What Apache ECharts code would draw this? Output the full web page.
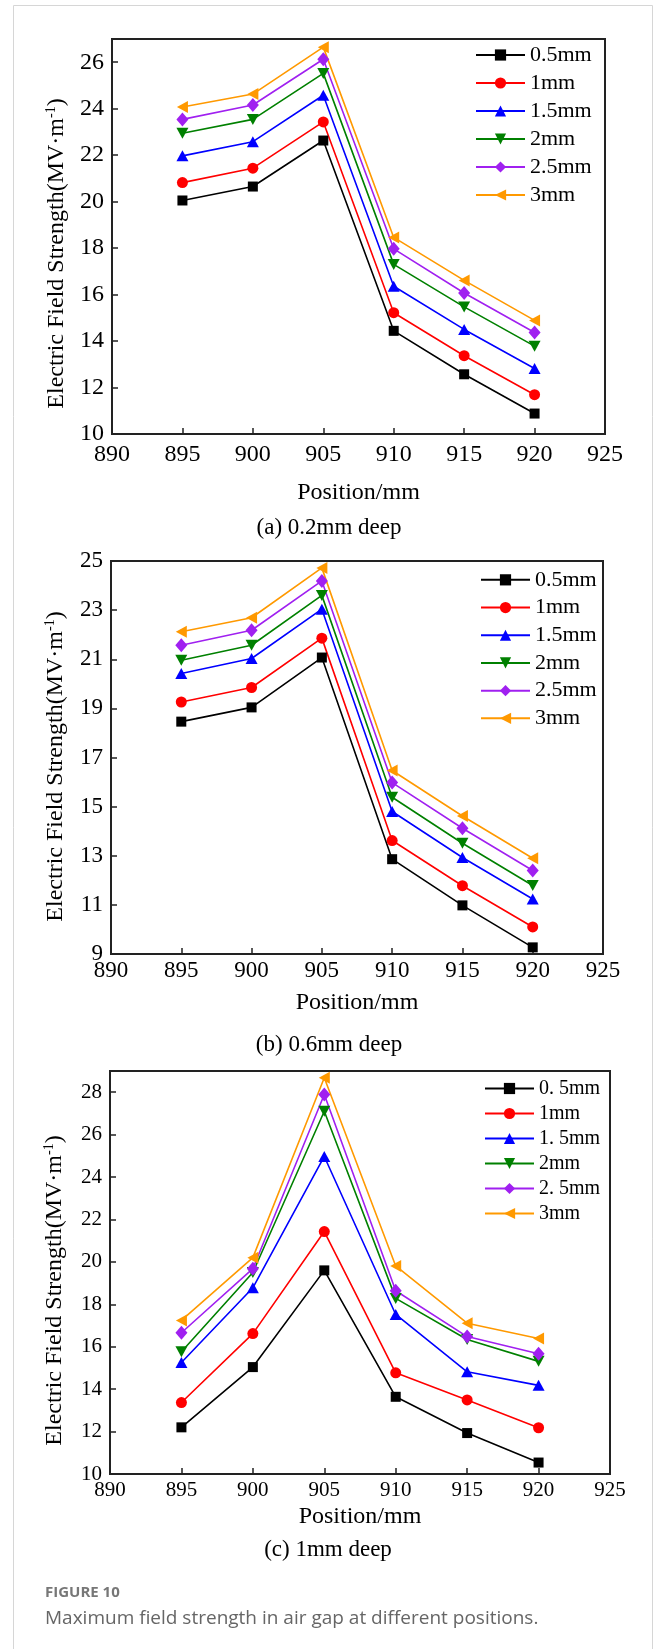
<!DOCTYPE html>
<html><head><meta charset="utf-8">
<script src="https://cdn.jsdelivr.net/npm/echarts@6/dist/echarts.min.js"></script>
<style>html,body{margin:0;padding:0;background:#fff}#c{width:658px;height:1649px}</style>
</head><body><div id="c"></div>
<script>
// ---------- data ----------
const positions = [895, 900, 905, 910, 915, 920];
const xTickLabels = [890, 895, 900, 905, 910, 915, 920, 925];
const namesAB = ['0.5mm', '1mm', '1.5mm', '2mm', '2.5mm', '3mm'];
const namesC = ['0. 5mm', '1mm', '1. 5mm', '2mm', '2. 5mm', '3mm'];

// (a) 0.2mm deep
const yTicksA = [10, 12, 14, 16, 18, 20, 22, 24, 26];
const yMaxA = 27;
const a05 = [20.05, 20.65, 22.63, 14.44, 12.57, 10.88];
const a1  = [20.82, 21.44, 23.43, 15.22, 13.37, 11.69];
const a15 = [21.97, 22.58, 24.58, 16.36, 14.50, 12.82];
const a2  = [22.94, 23.54, 25.52, 17.30, 15.47, 13.78];
const a25 = [23.54, 24.16, 26.13, 17.97, 16.07, 14.37];
const a3  = [24.07, 24.63, 26.65, 18.46, 16.61, 14.89];

// (b) 0.6mm deep
const yTicksB = [9, 11, 13, 15, 17, 19, 21, 23, 25];
const yMaxB = 25;
const b05 = [18.46, 19.04, 21.07, 12.86, 10.98, 9.27];
const b1  = [19.26, 19.85, 21.86, 13.62, 11.78, 10.10];
const b15 = [20.42, 21.03, 23.04, 14.80, 12.93, 11.24];
const b2  = [20.96, 21.57, 23.60, 15.38, 13.51, 11.79];
const b25 = [21.57, 22.18, 24.19, 15.98, 14.12, 12.40];
const b3  = [22.12, 22.69, 24.72, 16.47, 14.62, 12.90];

// (c) 1mm deep
const yTicksC = [10, 12, 14, 16, 18, 20, 22, 24, 26, 28];
const yMaxC = 29;
const c05 = [12.20, 15.04, 19.60, 13.64, 11.93, 10.54];
const c1  = [13.37, 16.62, 21.43, 14.77, 13.49, 12.18];
const c15 = [15.26, 18.78, 24.97, 17.52, 14.82, 14.18];
const c2  = [15.76, 19.50, 27.10, 18.28, 16.34, 15.31];
const c25 = [16.66, 19.68, 27.89, 18.64, 16.48, 15.67];
const c3  = [17.24, 20.20, 28.68, 19.81, 17.11, 16.39];

const captionA = '(a) 0.2mm deep';
const captionB = '(b) 0.6mm deep';
const captionC = '(c) 1mm deep';
const xName = 'Position/mm';
const yName = '{n|Electric Field Strength(MV·m}{s|-1}{n|)}';
const figLabel = 'FIGURE 10';
const figText = 'Maximum field strength in air gap at different positions.';

// ---------- styles ----------
const SERIF = '"Liberation Serif", "Times New Roman", serif';
const styles = [
  { color: '#000000', symbol: 'rect', size: 10 },
  { color: '#ff0000', symbol: 'circle', size: 11 },
  { color: '#0000ff', symbol: 'triangle', size: [12, 11] },
  { color: '#008000', symbol: 'path://M0,0L10,0L5,10Z', size: [12, 11] },
  { color: '#a020f0', symbol: 'diamond', size: [12, 14] },
  { color: '#ff9900', symbol: 'path://M10,0L10,10L0,5Z', size: [11, 12] }
];

const panels = [
  { names: namesAB, data: [a05, a1, a15, a2, a25, a3], ticks: yTicksA, max: yMaxA, showMax: false,
    grid: { left: 112, top: 39, width: 493, height: 395 },
    tickFont: 24, xMargin: 9, xGap: 47, yNamePad: [0, 34, 0, 0],
    legend: { left: 475, top: 41, lh: 28, fs: 22 } },
  { names: namesAB, data: [b05, b1, b15, b2, b25, b3], ticks: yTicksB, max: yMaxB, showMax: null,
    grid: { left: 111, top: 561, width: 492, height: 393 },
    tickFont: 23, xMargin: 5, xGap: 37, yNamePad: [0, 18, 0, 0],
    legend: { left: 480, top: 566, lh: 27.7, fs: 22 } },
  { names: namesC, data: [c05, c1, c15, c2, c25, c3], ticks: yTicksC, max: yMaxC, showMax: false,
    grid: { left: 110, top: 1071, width: 500, height: 403 },
    tickFont: 21, xMargin: 6, xGap: 31, yNamePad: [0, 36, 0, 0],
    legend: { left: 484, top: 1076, lh: 25, fs: 20 } }
];

const grids = [], xAxes = [], yAxes = [], series = [], legends = [];
panels.forEach((p, k) => {
  grids.push(Object.assign({ show: true, borderColor: '#222', borderWidth: 2, backgroundColor: 'transparent' }, p.grid));
  xAxes.push({
    type: 'value', gridIndex: k,
    min: xTickLabels[0], max: xTickLabels[xTickLabels.length - 1], interval: xTickLabels[1] - xTickLabels[0],
    axisLine: { show: true, onZero: false, lineStyle: { color: '#222', width: 2 } },
    axisTick: { show: true, inside: true, length: 6, lineStyle: { color: '#222', width: 1.5 } },
    axisLabel: { fontFamily: SERIF, fontSize: p.tickFont, color: '#000', margin: p.xMargin },
    splitLine: { show: false },
    name: xName, nameLocation: 'middle', nameGap: p.xGap,
    nameTextStyle: { fontFamily: SERIF, fontSize: 24, color: '#000' }
  });
  const yLabel = { fontFamily: SERIF, fontSize: p.tickFont, color: '#000', margin: 8 };
  if (p.showMax === false) yLabel.showMaxLabel = false;
  yAxes.push({
    type: 'value', gridIndex: k,
    min: p.ticks[0], max: p.max, interval: p.ticks[1] - p.ticks[0],
    axisLine: { show: true, onZero: false, lineStyle: { color: '#222', width: 2 } },
    axisTick: { show: true, inside: true, length: 6, lineStyle: { color: '#222', width: 1.5 } },
    axisLabel: yLabel,
    splitLine: { show: false },
    name: yName, nameLocation: 'middle', nameGap: 42,
    nameTextStyle: {
      color: '#000', padding: p.yNamePad,
      rich: {
        n: { fontFamily: SERIF, fontSize: 24, color: '#000', lineHeight: 26 },
        s: { fontFamily: SERIF, fontSize: 14, color: '#000', lineHeight: 26, verticalAlign: 'top' }
      }
    }
  });
  p.names.forEach((nm, i) => {
    const st = styles[i];
    series.push({
      type: 'line', name: nm, xAxisIndex: k, yAxisIndex: k,
      data: positions.map((x, j) => [x, p.data[i][j]]),
      symbol: st.symbol, symbolSize: st.size, showAllSymbol: true,
      lineStyle: { color: st.color, width: 1.6 },
      itemStyle: { color: st.color },
      emphasis: { disabled: true }, silent: true, clip: false
    });
  });
  legends.push({
    orient: 'vertical', left: p.legend.left, top: p.legend.top, padding: 0,
    itemWidth: 49, itemHeight: 14, itemGap: 0, selectedMode: false,
    data: p.names,
    textStyle: { fontFamily: SERIF, fontSize: p.legend.fs, color: '#000', lineHeight: p.legend.lh }
  });
});

const capStyle = { fontFamily: SERIF, fontSize: 23, fill: '#000', textAlign: 'center', textVerticalAlign: 'middle' };
const option = {
  animation: false,
  backgroundColor: '#fff',
  grid: grids, xAxis: xAxes, yAxis: yAxes, series: series, legend: legends,
  graphic: [
    { type: 'rect', silent: true, shape: { x: 13.5, y: 5.5, width: 639, height: 1700 },
      style: { fill: 'none', stroke: '#d6d6d6', lineWidth: 1 } },
    { type: 'text', x: 329, y: 528, style: Object.assign({ text: captionA }, capStyle) },
    { type: 'text', x: 329, y: 1045, style: Object.assign({ text: captionB }, capStyle) },
    { type: 'text', x: 328, y: 1550, style: Object.assign({ text: captionC }, capStyle) },
    { type: 'text', x: 45, y: 1593, style: { text: figLabel, fontFamily: '"Open Sans", sans-serif', fontWeight: 'bold', fontSize: 15, fill: '#777', textVerticalAlign: 'middle' } },
    { type: 'text', x: 45, y: 1619, style: { text: figText, fontFamily: '"Open Sans", sans-serif', fontSize: 19, fill: '#666', textVerticalAlign: 'middle' } }
  ]
};
const chart = echarts.init(document.getElementById('c'), null, { renderer: 'canvas' });
chart.setOption(option);
</script>
</body></html>
